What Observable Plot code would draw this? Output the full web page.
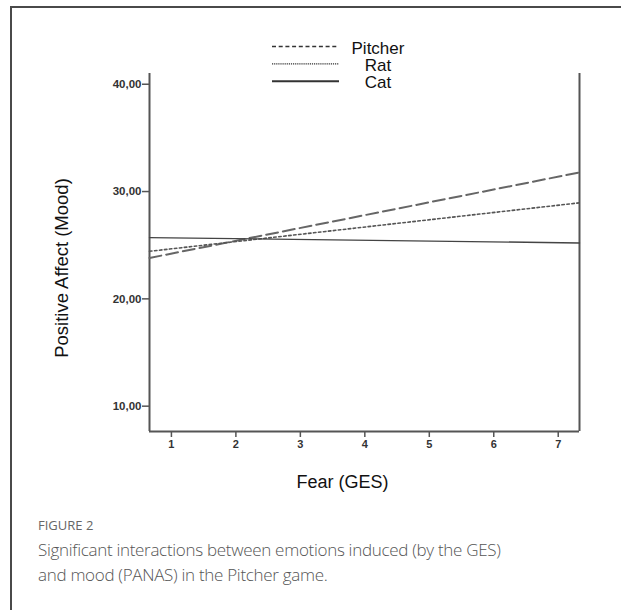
<!DOCTYPE html>
<html>
<head>
<meta charset="utf-8">
<script src="https://cdn.jsdelivr.net/npm/d3@7"></script>
<script src="https://cdn.jsdelivr.net/npm/@observablehq/plot@0.6"></script>
<style>
  html, body { margin: 0; padding: 0; background: #fff; }
  #page { position: relative; width: 621px; height: 610px; overflow: hidden; background: #fff; }
  #frame { position: absolute; left: 10px; top: 6px; width: 700px; height: 700px;
           border-top: 2px solid #4a4a4a; border-left: 2px solid #4a4a4a; }
  #chart { position: absolute; left: 0; top: 0; }
  #legend { position: absolute; left: 0; top: 0; }
  #ylabel { position: absolute; left: 62px; top: 268px; transform: translate(-50%, -50%) rotate(-90deg);
            white-space: nowrap; font-family: "Liberation Sans", Arial, sans-serif; font-size: 18.5px; color: #111; }
  .figlabel { position: absolute; left: 38px; top: 516px; font-family: "Open Sans", sans-serif;
              font-size: 13px; color: #666; font-weight: 500; }
  .figcap { position: absolute; left: 38px; top: 538px; width: 470px; font-family: "Open Sans", sans-serif;
            font-size: 17px; letter-spacing: -0.3px; line-height: 24.5px; color: #555; font-weight: 300; }
</style>
</head>
<body>
<div id="page">
  <div id="frame"></div>
  <div id="chart"></div>
  <svg id="legend" width="621" height="100"></svg>
  <div id="ylabel">Positive Affect (Mood)</div>
  <div class="figlabel">FIGURE 2</div>
  <div class="figcap">Significant interactions between emotions induced (by the GES) and mood (PANAS) in the Pitcher game.</div>
</div>
<script>
// ---- data ----
const games = ["Pitcher", "Rat", "Cat"];
const fearEnds = [0.66, 7.33];              // x at left and right plot edges
const pitcherMood = [23.81, 31.78];
const ratMood = [24.43, 28.95];
const catMood = [25.71, 25.21];
const xTicks = [1, 2, 3, 4, 5, 6, 7];
const yTicks = [10, 20, 30, 40];
const xDomain = [0.66, 7.33];
const yDomain = [7.64, 41.0];

const seriesValues = { Pitcher: pitcherMood, Rat: ratMood, Cat: catMood };
const styles = {
  Pitcher: { stroke: "#666", strokeWidth: 2, dash: "12,5" },
  Rat: { stroke: "#555", strokeWidth: 1.6, dash: "2.5,2.5" },
  Cat: { stroke: "#444", strokeWidth: 1.4, dash: null }
};
const rows = games.flatMap(g => fearEnds.map((x, i) => ({ game: g, fear: x, mood: seriesValues[g][i] })));

const font = "Liberation Sans, Arial, sans-serif";
const fmt = d => d.toFixed(2).replace(".", ",");

const lineMarks = games.map(g => Plot.line(rows.filter(r => r.game === g), {
  x: "fear", y: "mood", stroke: styles[g].stroke, strokeWidth: styles[g].strokeWidth,
  strokeDasharray: styles[g].dash
}));

const chart = Plot.plot({
  width: 621,
  height: 500,
  marginLeft: 149,
  marginRight: 42,
  marginTop: 73,
  marginBottom: 69,
  style: { fontFamily: font, background: "transparent", color: "#333" },
  x: { domain: xDomain, ticks: xTicks, label: null },
  y: { domain: yDomain, ticks: yTicks, label: null },
  marks: [
    Plot.axisX(xTicks, { tickSize: 6, tickPadding: 3, fontSize: 11, fontWeight: "bold", stroke: "#555", strokeWidth: 1.5, fill: "#333" }),
    Plot.axisY(yTicks, { tickSize: 7, tickPadding: 1, tickFormat: fmt, fontSize: 11.5, fontWeight: "bold", stroke: "#555", strokeWidth: 1.5, fill: "#333" }),
    Plot.ruleX(xDomain, { stroke: "#555", strokeWidth: 2 }),
    Plot.ruleY([yDomain[0]], { stroke: "#555", strokeWidth: 2 }),
    ...lineMarks,
    Plot.text(["Fear (GES)"], { frameAnchor: "bottom", dx: -22, dy: 56, fontSize: 18, fill: "#111" })
  ]
});
document.getElementById("chart").appendChild(chart);

// ---- legend ----
const leg = d3.select("#legend");
const legendDash = { Pitcher: "4,2.7", Rat: "1.2,0.9", Cat: null };
const legendWidth = { Pitcher: 1.6, Rat: 1.4, Cat: 2 };
games.forEach((g, i) => {
  const y = 46.5 + i * 17.4;
  leg.append("line").attr("x1", 272).attr("x2", 339).attr("y1", y).attr("y2", y)
    .attr("stroke", "#333").attr("stroke-width", legendWidth[g])
    .attr("stroke-dasharray", legendDash[g]);
  leg.append("text").attr("x", 378).attr("y", y + 7).attr("text-anchor", "middle")
    .attr("font-family", font).attr("font-size", 17).attr("fill", "#111").text(g);
});
</script>
</body>
</html>
